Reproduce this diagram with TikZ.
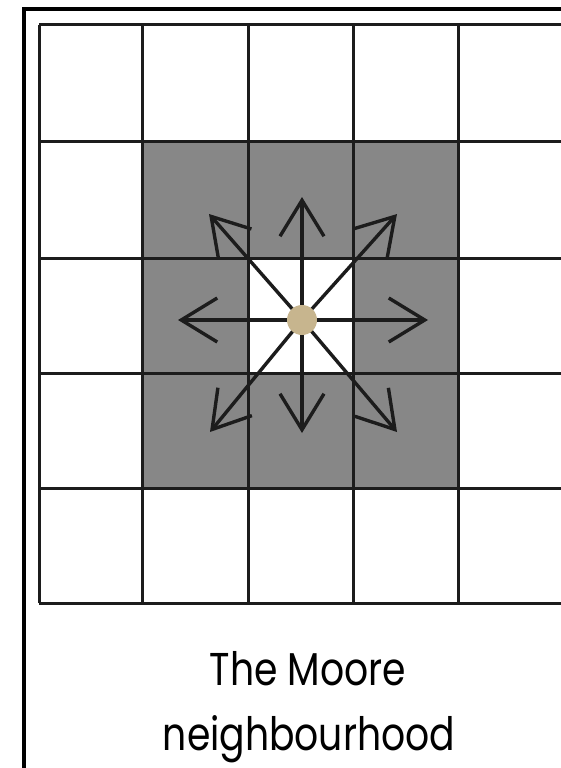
\documentclass[tikz,border=0pt]{standalone}
\usepackage{fontspec}
\newfontfamily\capfont[FakeStretch=0.82]{Poppins}
\usetikzlibrary{arrows.meta}
\definecolor{cellgray}{RGB}{135,135,135}
\definecolor{dottan}{RGB}{199,181,142}
\definecolor{ink}{RGB}{28,28,28}
\tikzset{gl/.style={line width=3pt,ink},arr/.style={line width=3.4pt,ink,-{Straight Barb[length=36pt,width=44pt]}},capt/.style={anchor=base,inner sep=0,font=\capfont\fontsize{46}{46}\selectfont}}
\begin{document}
\begin{tikzpicture}[x=1pt,y=-1pt]
\fill[white](0,0)rectangle(561,768);\useasboundingbox(0,0)rectangle(561,768);
% shaded neighbours, centre cell left white
\fill[cellgray](142,141)rectangle(458,488);\fill[white](248,258)rectangle(353,373);
\foreach\x in{39,142,248,353,458}\draw[gl](\x,25)--(\x,603);
\foreach\y in{25,141,258,373,488,603}\draw[gl](39,\y)--(561,\y);
\draw[line width=3.5pt,line cap=rect](24,768)--(24,9)--(561,9);
% eight directions
\coordinate(o)at(302,320);
\coordinate(n)at(302,197);\coordinate(s)at(302,433);\coordinate(w)at(178,320);\coordinate(e)at(428,320);
\coordinate(nw)at(209,214);\coordinate(ne)at(397,214);\coordinate(sw)at(210,432);\coordinate(se)at(397,432);
\draw[arr](o)--(n);\draw[arr](o)--(s);\draw[arr](o)--(w);\draw[arr](o)--(e);
\draw[arr](o)--(nw);\draw[arr](o)--(ne);\draw[arr](o)--(sw);\draw[arr](o)--(se);
\node[circle,fill=dottan,minimum size=30pt,inner sep=0](dot)at(o){};
\node[capt](l1)at(308,685){The Moore};\node[capt](l2)at(309,750){neighbourhood};
\end{tikzpicture}
\end{document}
